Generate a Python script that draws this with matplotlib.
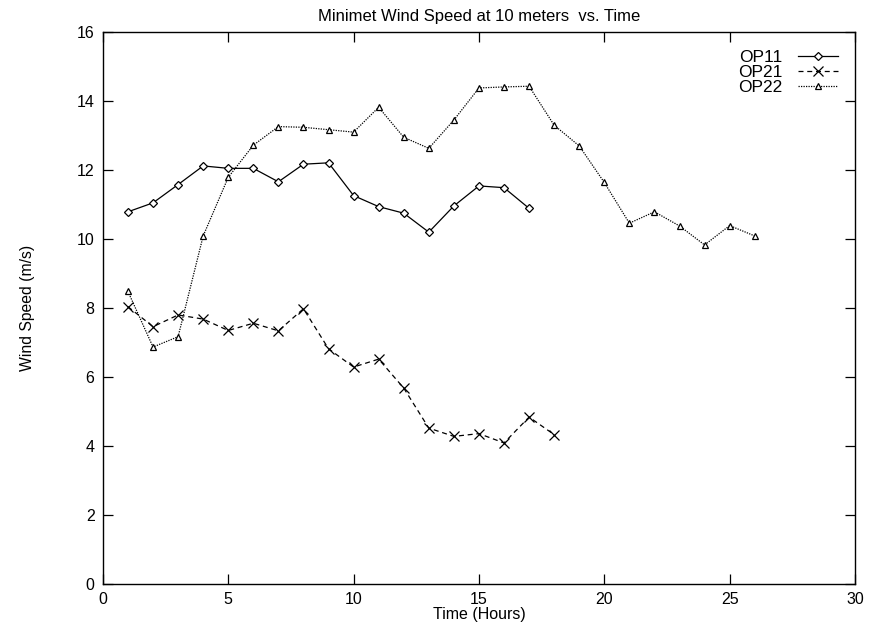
import numpy as np
import matplotlib
matplotlib.use('Agg')
import matplotlib.pyplot as plt

plt.rcParams['font.family'] = ['Liberation Sans', 'DejaVu Sans']

hours_op11 = list(range(1, 18))
op11 = [10.79, 11.05, 11.58, 12.12, 12.05, 12.05, 11.66, 12.17, 12.21,
        11.26, 10.94, 10.75, 10.20, 10.96, 11.54, 11.49, 10.89]

hours_op21 = list(range(1, 19))
op21 = [8.04, 7.46, 7.80, 7.68, 7.35, 7.56, 7.34, 7.98, 6.82,
        6.29, 6.52, 5.68, 4.52, 4.28, 4.36, 4.09, 4.84, 4.33]

hours_op22 = list(range(1, 27))
op22 = [8.48, 6.87, 7.17, 10.09, 11.79, 12.72, 13.26, 13.24, 13.17,
        13.10, 13.82, 12.95, 12.63, 13.45, 14.38, 14.41, 14.43, 13.30,
        12.70, 11.64, 10.46, 10.79, 10.38, 9.83, 10.39, 10.09]

fig = plt.figure(figsize=(8.72, 6.29), dpi=100)
ax = fig.add_axes([0.118, 0.0715, 0.8625, 0.8775])

mk = dict(color='black', lw=0.9, markerfacecolor='white',
          markeredgecolor='black', markeredgewidth=0.9)
ax.plot(hours_op11, op11, ls='-', marker='D', markersize=4.5, label='OP11', **mk)
ax.plot(hours_op21, op21, ls=(0, (4, 3)), marker='x', markersize=6.5,
        label='OP21', **mk)
ax.plot(hours_op22, op22, ls=(0, (1, 1)), marker='^', markersize=5,
        label='OP22', **mk)

ax.set_xlim(0, 30)
ax.set_ylim(0, 16)
ax.set_xticks(np.arange(0, 31, 5))
ax.set_yticks(np.arange(0, 17, 2))
ax.tick_params(direction='in', length=7, width=0.9, top=True, right=True,
               labelsize=11.5, pad=6)
for s in ax.spines.values():
    s.set_linewidth(1.0)

ax.set_xlabel('Time (Hours)', fontsize=11.5, labelpad=0)
ax.set_ylabel('Wind Speed (m/s)', fontsize=11.3, labelpad=30)
ax.set_title('Minimet Wind Speed at 10 meters  vs. Time', fontsize=12, pad=8)

ax.legend(loc='upper right', frameon=False, fontsize=12.5,
          markerfirst=False, handlelength=2.3, handletextpad=0.9,
          labelspacing=0.0, borderaxespad=0.6)

fig.savefig('out.png', dpi=100)
